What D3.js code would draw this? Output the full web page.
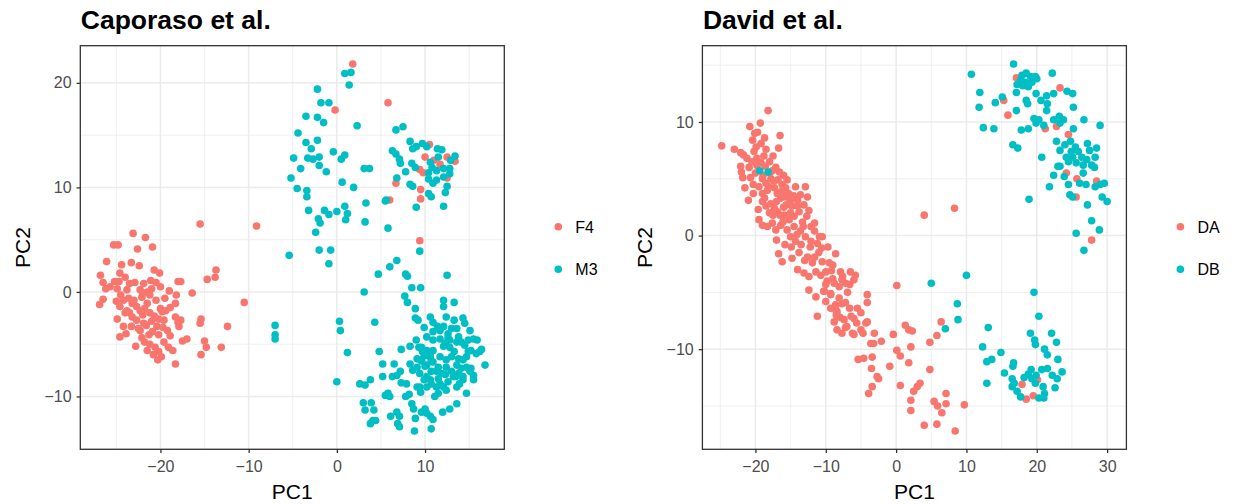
<!DOCTYPE html>
<html>
<head>
<meta charset="utf-8">
<script src="https://cdn.jsdelivr.net/npm/d3@7"></script>
<style>
  body { margin: 0; background: #fff; }
  text { font-family: "Liberation Sans", Arial, Helvetica, sans-serif; }
</style>
</head>
<body>
<div id="chart"></div>
<script>
// PCA of two studies, two groups each

const caporasoF4 = [
  [1.8,21.8],[5.8,18.1],[-0.2,17.4],[10.5,14.1],[10.0,12.9],[11.0,12.6],[11.7,12.2],[12.5,12.9],[13.4,12.5],
  [12.5,10.9],[9.4,11.7],[9.8,11.4],[6.7,10.4],[9.5,9.8],[6.0,8.8],[9.5,8.9],[9.4,4.9],[-9.1,6.3],[-15.5,6.5],
  [-23.1,5.6],[-21.7,5.2],[-25.3,4.5],[-24.8,4.5],[-22.6,4.1],[-20.9,4.3],[-26.1,2.9],[-24.4,2.6],[-23.3,2.8],
  [-22.4,2.5],[-26.8,1.6],[-26.5,0.9],[-26.2,0.3],[-26.5,-0.7],[-26.9,-1.2],[-24.6,1.8],[-24.7,1.0],[-24.9,0.3],
  [-24.5,-0.3],[-24.6,-1.4],[-23.8,0.2],[-23.6,-0.6],[-24.2,-0.8],[-23.0,-0.8],[-22.3,0.2],[-22.1,-0.5],
  [-22.7,-1.4],[-21.8,-1.6],[-21.5,-1.1],[-21.2,-0.3],[-21.0,0.3],[-21.1,1.1],[-20.7,2.1],[-20.1,1.8],[-21.5,0.0],
  [-20.0,-1.6],[-19.4,-1.8],[-18.9,-1.5],[-18.2,-0.3],[-18.0,1.0],[-17.7,1.0],[-16.4,-0.1],[-14.7,1.2],[-13.7,2.1],
  [-13.8,1.4],[-10.5,-1.0],[-18.3,-1.1],[-24.9,-2.6],[-24.2,-3.3],[-24.6,-4.3],[-23.3,-3.3],[-23.2,-2.4],
  [-22.7,-2.7],[-22.8,-5.2],[-22.3,-3.7],[-22.1,-4.4],[-21.6,-3.2],[-21.3,-4.1],[-21.2,-5.0],[-20.7,-2.3],
  [-20.6,-5.3],[-20.2,-5.7],[-20.3,-6.5],[-19.9,-6.2],[-20.4,-3.3],[-20.2,-4.1],[-19.8,-1.9],[-19.6,-2.7],
  [-19.2,-3.7],[-19.1,-5.3],[-18.9,-4.2],[-18.3,-2.4],[-18.0,-2.9],[-17.7,-2.7],[-18.3,-6.9],[-17.5,-4.7],
  [-17.0,-4.5],[-15.4,-2.6],[-15.5,-3.0],[-15.0,-4.7],[-14.8,-5.3],[-15.4,-6.0],[-13.1,-5.3],[-12.4,-3.3],
  [-23.8,-1.8],[-23.2,-1.1],[-23.5,-2.0],[-22.0,-2.2],[-21.0,-2.8],[-22.9,0.9],[-21.9,0.8],[-20.5,-0.8],
  [-19.5,-0.6],[-23.9,-4.0],[-21.9,-3.0],[-20.9,-3.8],[-19.6,-4.8],[-21.5,-5.6],[-24.0,1.4],[-25.0,-0.9],
  [-25.2,1.0],[-22.5,-3.5],[-20.0,0.5],[-19.0,0.1],[-17.9,-3.3],
  [-25.7,0.5],[-24.0,-2.0],[-22.3,-1.8],[-21.2,-2.0],[-20.2,-2.6],[-22.0,-0.1],[-23.5,0.8],[-20.5,0.9],
  [-19.7,-3.4],[-21.8,-4.8],[-20.8,-6.0],[-18.6,-5.6]
]

const caporasoM3 = [
  [0.9,20.9],[1.6,21.0],[1.4,19.8],[-2.2,19.4],[-1.8,18.1],[-0.9,18.1],[-3.5,16.8],[-2.2,16.7],[-1.5,16.2],
  [2.3,15.9],[-4.4,15.2],[-3.5,14.3],[-2.9,13.7],[-2.2,14.5],[-4.9,12.8],[-3.3,12.8],[-2.7,12.7],[-2.0,12.9],
  [-4.1,11.8],[-2.0,12.1],[-1.2,11.5],[-0.4,13.4],[0.5,12.7],[0.9,13.1],[-5.2,10.9],[-4.5,9.9],[-3.4,9.7],
  [-3.4,9.1],[0.6,10.5],[1.9,10.0],[3.1,11.8],[3.7,11.8],[3.3,8.5],[-3.2,7.8],[-1.4,7.8],[-0.9,7.4],[0.0,7.7],
  [0.9,8.2],[1.2,7.5],[1.0,6.9],[-2.1,7.0],[-1.9,6.6],[-2.4,5.7],[3.2,6.7],[5.8,6.1],[5.5,8.7],[-5.4,3.5],
  [-2.0,4.0],[-0.7,4.0],[-0.9,2.7],[9.4,3.9],[6.0,2.4],[6.8,3.0],
  [6.7,15.5],[7.5,15.8],[6.3,13.5],[6.7,13.2],[7.1,12.7],[7.2,12.3],[8.3,14.4],[8.6,13.7],[9.0,13.9],[9.7,14.2],
  [10.2,13.9],[11.4,13.7],[11.9,13.6],[13.4,13.0],[8.5,12.3],[8.9,11.9],[7.8,11.5],[6.8,10.9],[10.4,11.4],
  [10.8,11.9],[11.3,11.6],[12.1,11.8],[12.8,11.8],[12.8,11.3],[12.1,11.0],[11.3,10.7],[10.4,10.8],[10.9,10.4],
  [8.3,10.3],[8.6,10.1],[12.5,10.1],[12.3,9.5],[10.4,9.4],[10.7,9.1],[9.0,8.1],[12.1,8.2],[5.6,8.8],
  [11.5,12.9],[12.9,12.6],[10.6,12.4],
  [-7.0,-3.2],[-7.0,-4.1],[-7.0,-4.5],[4.7,1.7],[7.8,1.7],[8.0,1.5],[12.5,1.6],[3.1,0.0],[8.5,0.4],[9.5,0.4],
  [7.7,-0.4],[8.0,-1.0],[8.9,-1.6],[12.1,-0.8],[12.1,-1.4],[13.3,-1.0],[0.3,-2.8],[0.4,-3.7],[4.3,-2.9],
  [8.9,-2.5],[9.2,-2.7],[9.9,-3.4],[10.6,-2.4],[10.9,-2.9],[11.4,-3.3],[12.1,-3.3],[12.4,-2.4],[13.3,-2.7],
  [13.6,-3.5],[14.3,-2.5],[14.5,-3.0],[15.1,-3.7],[15.5,-4.5],[15.9,-4.6],[12.6,-4.0],[13.0,-3.5],[14.1,-4.8],
  [15.2,-5.6],[15.8,-5.9],[16.4,-5.5],[16.8,-7.0],[1.2,-5.8],[4.8,-5.7],[7.3,-5.5],[8.3,-5.2],[9.0,-4.6],
  [9.6,-5.3],[10.2,-5.6],[9.9,-6.1],[10.6,-5.9],[12.1,-5.2],[12.6,-4.4],[12.8,-5.3],[13.3,-5.7],[13.8,-6.4],
  [9.1,-6.4],[9.6,-6.6],[10.0,-7.1],[10.6,-6.2],[10.9,-6.7],[11.5,-7.2],[10.7,-7.6],[10.2,-8.1],[8.3,-6.9],
  [8.6,-7.5],[5.2,-6.9],[6.5,-6.9],[7.2,-7.6],[6.8,-8.0],[6.3,-8.1],[5.2,-8.1],[7.3,-8.7],[7.9,-8.8],[8.2,-9.8],
  [7.8,-10.0],[0.0,-8.6],[2.6,-8.8],[3.2,-8.9],[3.8,-8.4],[9.1,-9.1],[9.5,-9.6],[10.2,-9.1],[10.7,-8.8],
  [11.5,-8.3],[12.3,-7.9],[13.0,-7.6],[13.5,-8.1],[14.3,-8.1],[14.7,-9.7],[15.2,-7.3],[15.5,-8.0],[16.2,-5.7],
  [15.5,-8.4],[12.1,-9.1],[12.4,-9.4],[11.5,-9.7],[11.1,-10.0],[5.5,-9.9],[5.8,-9.7],[6.0,-10.0],[3.0,-10.6],
  [3.2,-11.3],[3.9,-10.6],[4.2,-11.3],[4.1,-12.3],[3.8,-12.6],[4.4,-12.3],[6.1,-11.9],[6.8,-11.5],[7.1,-11.9],
  [6.9,-12.6],[7.1,-12.9],[8.5,-10.7],[8.7,-11.2],[8.9,-12.1],[9.6,-11.5],[10.2,-11.6],[10.6,-11.9],[10.9,-12.2],
  [10.0,-11.2],[8.8,-13.3],[10.7,-13.1],[12.0,-11.5],[12.8,-11.2],[13.6,-10.7],[9.4,-9.1],[11.7,-8.8],[12.6,-8.6],
  [13.6,-9.1],[13.9,-8.8],[9.1,-7.2],[9.4,-7.8],[9.9,-8.4],[10.6,-8.4],[11.3,-9.1],[9.3,-5.3],[9.7,-5.7],
  [10.4,-6.1],[10.9,-5.6],[11.7,-6.2],[12.4,-6.5],[13.0,-6.2],[13.6,-7.0],[14.1,-7.3],[14.7,-7.2],[15.1,-7.6],
  [10.9,-4.6],[11.7,-4.5],[12.3,-4.9],[12.8,-4.6],[13.6,-4.8],[13.8,-4.3],[14.5,-5.1],[14.9,-4.6],[10.2,-4.3],
  [10.9,-3.8],[11.7,-3.7],[9.6,-6.5],[10.2,-7.0],[10.7,-6.6],[11.3,-7.6],[11.9,-7.8],[12.4,-7.2],[13.2,-8.1],
  [13.8,-7.8],[14.3,-8.4],[14.7,-6.2],[14.3,-6.5],[14.9,-5.7]
]

const davidDA = [
  [-18.2,11.0],[-20.8,9.6],[-19.3,9.9],[-20.1,9.0],[-19.7,9.1],[-16.5,8.8],[-16.7,7.7],[-24.8,7.9],[-23.0,7.6],
  [-22.1,7.3],[-21.7,7.1],[-20.4,8.4],[-19.9,7.8],[-19.2,8.1],[-18.5,7.6],[-18.8,7.0],[-19.8,6.8],[-20.2,7.4],
  [-22.1,6.1],[-22.0,5.6],[-20.9,6.0],[-20.7,5.1],[-21.5,4.2],[-21.0,3.1],[-17.1,6.0],[-16.6,5.6],[-17.8,5.0],
  [-18.5,4.6],[-19.5,4.3],[-19.0,3.7],[-18.3,4.0],[-17.3,4.2],[-16.8,4.9],[-16.2,4.5],[-15.5,4.9],[-15.7,4.2],
  [-16.9,3.7],[-16.4,3.3],[-15.7,3.4],[-15.0,3.1],[-14.0,3.1],[-12.9,4.3],[-12.6,3.4],[-13.1,2.7],[-14.0,2.6],
  [-19.0,3.0],[-18.5,2.6],[-17.8,2.8],[-17.3,2.4],[-19.5,1.4],[-19.0,0.9],[-18.3,0.8],[-17.6,1.1],[-17.1,0.5],
  [-16.4,0.9],[-17.0,-0.4],[-15.9,1.8],[-15.2,1.4],[-14.5,1.7],[-13.8,2.1],[-13.3,1.2],[-12.7,1.7],[-12.1,0.8],
  [-11.6,1.1],[-15.5,0.5],[-15.0,-0.1],[-14.3,-0.5],[-13.6,0.4],[-12.9,-0.1],[-12.1,-0.5],[-11.6,0.4],
  [-10.9,-0.1],[-10.5,-0.1],[-16.7,-1.6],[-16.2,-2.3],[-14.8,-2.0],[-14.0,-3.0],[-13.1,-3.3],[-12.4,-3.6],
  [-11.4,-3.2],[-10.7,-3.5],[-10.0,-3.2],[-9.5,-2.4],[-8.6,-1.6],[-9.7,-1.0],[-12.2,-1.0],[-12.6,-1.9],
  [-11.9,-2.4],[-12.4,-4.8],[-11.4,-5.4],[-10.2,-4.9],[-9.3,-5.1],[-8.1,-4.5],[-7.6,-3.6],[-7.2,-4.2],
  [-6.5,-3.2],[-5.8,-3.5],[-11.2,-7.1],[-8.6,-6.1],[-8.4,-6.7],[-7.4,-7.4],[-7.0,-8.0],[-6.2,-8.6],[-5.0,-8.3],
  [-4.3,-7.7],[-4.1,-5.2],[-5.5,-6.4],[0.1,-4.4],[4.0,1.8],[8.3,2.4],
  [-18.0,6.5],[-17.5,7.0],[-18.0,5.5],[-19.0,5.0],[-20.0,5.5],[-17.0,3.0],[-16.0,2.5],[-15.0,2.0],[-14.5,0.8],
  [-13.5,-0.8],[-11.0,-1.5],[-10.5,-2.3],[-9.0,-3.8],[-17.5,1.8],[-16.5,1.8],[-20.5,6.5],[-21.2,6.8],[-18.7,8.6],
  [-19.8,6.2],[-19.2,6.4],[-18.6,6.1],[-18.9,5.3],[-17.6,5.7],[-18.1,4.3],[-17.4,4.8],[-16.0,5.3],[-16.3,3.9],
  [-15.3,3.7],[-14.6,3.5],[-14.3,4.3],[-13.6,3.6],[-18.7,3.3],[-18.0,2.0],[-16.9,2.1],[-16.1,1.2],[-15.6,2.7],
  [-14.8,2.6],[-13.2,0.8],[-14.1,0.1],[-12.4,2.2],[-11.2,-0.7],[-13.0,-2.2],[-13.8,-1.5],[-14.9,-1.0],
  [-15.8,-0.8],[-11.6,-1.9],[-10.6,-1.1],[-9.0,-2.6],[-10.0,-4.3],[-9.2,-3.1],[-7.9,-3.2],[-6.9,-5.0],
  [-7.7,-6.0],[-6.4,-7.1],[-5.6,-7.7],[-9.3,-6.4],[-10.0,-5.8],[-8.0,-7.2],[-19.6,2.3],[-20.3,3.7],[-21.8,5.1],
  [-20.3,4.5],
  [-9.8,-4.0],[-8.8,-4.2],[-7.7,-3.9],[-6.6,-4.3],[-6.0,-3.9],[-10.3,-4.9],[-9.3,-5.2],[-8.1,-5.5],[-7.2,-5.9],
  [-4.1,-5.9],[-8.6,-6.5],[-8.5,-7.0],[-6.6,-6.4],[-5.0,-6.8],[-6.0,-7.3],[-8.8,-7.6],[-8.4,-8.3],[-7.7,-8.6],
  [-7.2,-8.1],[-6.0,-8.7],[-4.7,-8.6],[-4.1,-7.6],[-3.1,-8.6],[-2.1,-9.3],[-3.2,-9.5],[-3.6,-9.5],[-0.4,-8.7],
  [0.1,-10.1],[0.6,-10.6],[1.8,-11.2],[1.3,-7.9],[1.8,-8.3],[2.3,-8.4],[2.1,-9.8],[-5.4,-10.9],[-4.6,-10.8],
  [-3.4,-10.7],[-3.5,-11.7],[-2.7,-12.4],[-2.5,-12.6],[-3.4,-13.3],[-3.9,-13.9],[-0.9,-11.5],[0.6,-13.2],
  [2.1,-14.5],[2.1,-15.4],[3.0,-13.3],[3.4,-13.0],[2.5,-13.7],[4.8,-9.4],[5.8,-8.8],[6.4,-7.6],[4.8,-11.8],
  [5.4,-14.6],[5.9,-15.0],[6.5,-15.6],[7.1,-14.8],[7.1,-13.9],[9.7,-14.9],[4.0,-16.7],[5.8,-16.6],[8.4,-17.2],
  [17.1,13.9],[23.3,13.0],[15.3,11.9],[15.9,10.6],[21.2,9.4],[22.8,9.6],[24.5,8.9],[24.2,5.5],[25.7,5.0],
  [25.6,3.4],[28.5,4.8],[27.8,-0.4],[17.9,-13.1],[19.5,-14.1],[18.5,-14.4],[20.1,-12.7]
]

const davidDB = [
  [-19.4,5.7],[-18.2,5.6],[5.0,-4.2],[10.0,-3.5],[8.7,-6.0],[8.8,-7.4],[7.0,-8.2],
  [10.7,14.2],[16.7,15.1],[22.2,14.3],[17.9,14.1],[18.5,14.3],[19.1,14.0],[19.8,14.0],[17.7,13.7],[18.4,13.5],
  [19.3,13.5],[18.8,13.1],[18.0,13.2],[17.2,13.3],[20.0,13.8],[24.3,12.7],[25.1,12.5],[11.9,12.6],[11.8,11.3],
  [14.1,11.7],[15.1,12.2],[17.1,11.0],[17.1,12.6],[18.5,11.9],[18.7,11.6],[19.9,12.5],[20.6,11.9],[21.4,12.3],
  [22.4,12.5],[21.5,11.6],[21.4,11.0],[19.6,10.3],[20.3,10.2],[21.0,9.7],[19.9,9.9],[22.4,10.2],[23.2,10.5],
  [23.8,10.2],[23.3,9.9],[25.2,11.3],[26.7,10.2],[29.0,9.7],[25.2,9.4],[12.4,9.5],[13.9,9.4],[17.8,9.3],
  [18.8,9.4],[16.6,8.0],[17.3,7.7],[20.7,6.9],[22.8,8.3],[23.3,7.5],[24.0,8.0],[24.8,8.3],[25.5,7.8],[24.9,7.4],
  [24.2,6.9],[25.1,6.9],[25.9,7.4],[26.4,6.9],[27.2,8.1],[27.5,7.5],[28.5,7.7],[28.3,6.9],[27.1,6.7],[27.8,6.2],
  [28.2,6.0],[26.6,6.2],[25.6,6.4],[24.5,6.5],[23.3,6.1],[23.0,6.1],[22.4,5.3],[23.9,5.2],[24.5,4.5],[24.7,3.6],
  [25.1,3.4],[26.1,4.6],[27.0,4.5],[26.6,5.5],[28.3,4.3],[29.0,4.5],[29.6,4.6],[29.3,3.4],[30.0,3.0],[27.2,2.7],
  [27.8,1.3],[28.9,0.5],[25.6,0.2],[26.7,-1.3],[21.8,4.3],[18.9,3.2],
  [19.6,-5.0],[20.3,-7.1],[19.1,-8.6],[19.7,-9.2],[19.8,-9.6],[22.1,-8.6],[22.8,-9.4],[13.1,-8.1],[12.3,-9.8],
  [14.9,-10.3],[12.9,-11.1],[13.6,-10.9],[21.1,-10.0],[21.5,-10.5],[23.0,-10.9],[16.7,-11.2],[16.6,-11.5],
  [15.4,-12.1],[16.5,-12.6],[16.8,-13.0],[16.5,-13.3],[12.9,-13.0],[17.7,-14.2],[18.2,-12.5],[18.8,-12.2],
  [19.3,-12.6],[19.9,-12.3],[19.2,-11.8],[20.7,-11.8],[21.5,-11.7],[22.2,-12.3],[22.9,-12.6],[23.6,-12.0],
  [20.9,-13.3],[21.1,-13.9],[20.3,-14.3],[21.0,-14.3],[22.6,-13.4],[17.2,-13.7],[19.8,-13.0]
]

const caporasoXTicks = [-20, -10, 0, 10]
const caporasoYTicks = [-10, 0, 10, 20]
const davidXTicks = [-20, -10, 0, 10, 20, 30]
const davidYTicks = [-10, 0, 10]

const COLORS = ["#F8766D", "#00BFC4"]

const WIDTH = 1240
const HEIGHT = 504
const PANEL = { top: 45.7, height: 403.6, width: 424 }
const RADIUS = 3.8

const svg = d3.select("#chart")
  .append("svg")
  .attr("width", WIDTH)
  .attr("height", HEIGHT)

svg.append("rect")
  .attr("width", WIDTH)
  .attr("height", HEIGHT)
  .attr("fill", "#fff")

// ggplot-style 5% expansion
function expand(ext) {
  const pad = (ext[1] - ext[0]) * 0.05
  return [ext[0] - pad, ext[1] + pad]
}

function minorTicks(ticks, domain) {
  const step = ticks[1] - ticks[0]
  const out = []
  for (let t = ticks[0] - step / 2; t <= domain[1]; t += step) {
    if (t >= domain[0]) out.push(t)
  }
  return out
}

function drawPanel(cfg) {
  const all = cfg.groups[0].concat(cfg.groups[1])
  const xDom = expand(d3.extent(all, d => d[0]))
  const yDom = expand(d3.extent(all, d => d[1]))

  const x = d3.scaleLinear().domain(xDom).range([cfg.left, cfg.left + PANEL.width])
  const y = d3.scaleLinear().domain(yDom).range([PANEL.top + PANEL.height, PANEL.top])

  const g = svg.append("g")

  // grid
  const xMinor = minorTicks(cfg.xTicks, xDom)
  const yMinor = minorTicks(cfg.yTicks, yDom)

  g.selectAll("line.xminor").data(xMinor).join("line")
    .attr("x1", d => x(d)).attr("x2", d => x(d))
    .attr("y1", PANEL.top).attr("y2", PANEL.top + PANEL.height)
    .attr("stroke", "#EBEBEB").attr("stroke-width", 0.8)
  g.selectAll("line.yminor").data(yMinor).join("line")
    .attr("y1", d => y(d)).attr("y2", d => y(d))
    .attr("x1", cfg.left).attr("x2", cfg.left + PANEL.width)
    .attr("stroke", "#EBEBEB").attr("stroke-width", 0.8)
  g.selectAll("line.xmajor").data(cfg.xTicks).join("line")
    .attr("x1", d => x(d)).attr("x2", d => x(d))
    .attr("y1", PANEL.top).attr("y2", PANEL.top + PANEL.height)
    .attr("stroke", "#EBEBEB").attr("stroke-width", 1.5)
  g.selectAll("line.ymajor").data(cfg.yTicks).join("line")
    .attr("y1", d => y(d)).attr("y2", d => y(d))
    .attr("x1", cfg.left).attr("x2", cfg.left + PANEL.width)
    .attr("stroke", "#EBEBEB").attr("stroke-width", 1.5)

  // points
  cfg.groups.forEach((pts, i) => {
    g.append("g").selectAll("circle").data(pts).join("circle")
      .attr("cx", d => x(d[0]))
      .attr("cy", d => y(d[1]))
      .attr("r", RADIUS)
      .attr("fill", COLORS[i])
  })

  // border
  g.append("rect")
    .attr("x", cfg.left).attr("y", PANEL.top)
    .attr("width", PANEL.width).attr("height", PANEL.height)
    .attr("fill", "none").attr("stroke", "#333333").attr("stroke-width", 1.3)

  // axes
  const xAxis = d3.axisBottom(x).tickValues(cfg.xTicks).tickSize(3.7).tickPadding(8)
  const yAxis = d3.axisLeft(y).tickValues(cfg.yTicks).tickSize(3.7).tickPadding(5)

  const gx = g.append("g")
    .attr("transform", `translate(0,${PANEL.top + PANEL.height})`)
    .call(xAxis)
  const gy = g.append("g")
    .attr("transform", `translate(${cfg.left},0)`)
    .call(yAxis)

  ;[gx, gy].forEach(ax => {
    ax.select(".domain").remove()
    ax.selectAll(".tick line").attr("stroke", "#333333").attr("stroke-width", 1.3)
    ax.selectAll(".tick text")
      .attr("fill", "#4D4D4D")
      .attr("font-size", 16)
      .attr("font-family", "'Liberation Sans', Arial, sans-serif")
  })

  // titles
  g.append("text")
    .text(cfg.title)
    .attr("x", cfg.left + 0.5)
    .attr("y", 29)
    .attr("font-size", 26.5)
    .attr("font-weight", "bold")
    .attr("fill", "#000")

  g.append("text")
    .text("PC1")
    .attr("x", cfg.left + PANEL.width / 2)
    .attr("y", 499)
    .attr("text-anchor", "middle")
    .attr("font-size", 21)
    .attr("fill", "#000")

  g.append("text")
    .text("PC2")
    .attr("transform", `translate(${cfg.left - 50},${PANEL.top + PANEL.height / 2}) rotate(-90)`)
    .attr("text-anchor", "middle")
    .attr("font-size", 21)
    .attr("fill", "#000")

  // legend
  const lg = g.append("g")
    .attr("transform", `translate(${cfg.left + PANEL.width + 54},0)`)
  cfg.labels.forEach((lab, i) => {
    lg.append("circle")
      .attr("cx", 0)
      .attr("cy", 226.7 + 42.6 * i)
      .attr("r", RADIUS)
      .attr("fill", COLORS[i])
    lg.append("text")
      .text(lab)
      .attr("x", 17)
      .attr("y", 232.5 + 42.6 * i)
      .attr("font-size", 16)
      .attr("fill", "#000")
  })
}

drawPanel({
  title: "Caporaso et al.",
  left: 80.3,
  groups: [caporasoF4, caporasoM3],
  labels: ["F4", "M3"],
  xTicks: caporasoXTicks,
  yTicks: caporasoYTicks
})

drawPanel({
  title: "David et al.",
  left: 702.4,
  groups: [davidDA, davidDB],
  labels: ["DA", "DB"],
  xTicks: davidXTicks,
  yTicks: davidYTicks
})
</script>
</body>
</html>
